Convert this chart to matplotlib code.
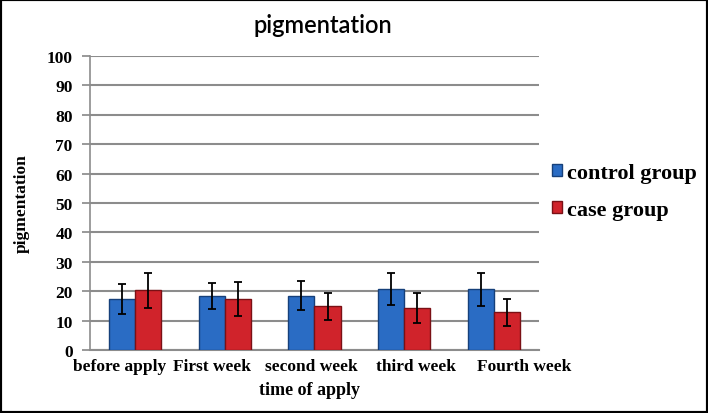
import numpy as np
import matplotlib
matplotlib.use('Agg')
import matplotlib.pyplot as plt
from matplotlib.patches import Rectangle, Patch

weeks = ['before apply', 'First week', 'second week', 'third week', 'Fourth week']
control = [17.3, 18.4, 18.4, 20.7, 20.7]
case = [20.3, 17.3, 14.8, 14.3, 12.8]
control_err = [5.2, 4.5, 4.9, 5.4, 5.6]
case_err = [6.0, 5.8, 4.6, 5.2, 4.6]
yticks = np.arange(0, 101, 10)
# the category labels are spread out a little to avoid overlapping
label_shift = [-0.17, -0.14, -0.03, 0.13, 0.33]

serif = 'Liberation Serif'

fig = plt.figure(figsize=(7.08, 4.14), dpi=100)
ax = fig.add_axes([0.1271, 0.1522, 0.6342, 0.7101])

x = np.arange(len(weeks))
w = 0.29
ax.bar(x - w / 2, control, w, color='#2a6cc4', edgecolor='#16407a', linewidth=1.0,
       yerr=control_err, error_kw=dict(ecolor='black', elinewidth=1.3, capsize=3, capthick=1.3),
       zorder=3)
ax.bar(x + w / 2, case, w, color='#d0232b', edgecolor='#7a1015', linewidth=1.0,
       yerr=case_err, error_kw=dict(ecolor='black', elinewidth=1.3, capsize=3, capthick=1.3),
       zorder=3)

ax.set_xlim(-0.5, len(weeks) - 0.5)
ax.set_ylim(0, 100)
ax.set_yticks(yticks)
ax.set_xticks(x + np.array(label_shift))
ax.set_xticklabels(weeks, fontfamily=serif, fontweight='bold', fontsize=12.5)
ax.tick_params(axis='x', length=0, pad=6)
ax.tick_params(axis='y', length=5.5, width=1.2, color='#888888', pad=7)
for lab in ax.get_yticklabels():
    lab.set_fontfamily(serif)
    lab.set_fontweight('bold')
    lab.set_fontsize(12.5)

ax.grid(axis='y', color='#8c8c8c', linewidth=1.5, zorder=0)
for s in ['top', 'right']:
    ax.spines[s].set_visible(False)
ax.spines['left'].set_color('#8c8c8c')
ax.spines['left'].set_linewidth(1.2)
ax.spines['bottom'].set_color('#8c8c8c')
ax.spines['bottom'].set_linewidth(1.5)

ax.set_xlabel('time of apply', fontfamily=serif, fontweight='bold', fontsize=13, labelpad=2)
ax.xaxis.set_label_coords(0.489, -0.105)
ax.set_ylabel('pigmentation', fontfamily=serif, fontweight='bold', fontsize=12.5, labelpad=12)

fig.text(0.456, 0.938, 'pigmentation', ha='center', va='center', fontfamily='Lato',
         fontsize=17, fontweight='semibold')

handles = [Patch(facecolor='#2a6cc4', edgecolor='#16407a'),
           Patch(facecolor='#d0232b', edgecolor='#7a1015')]
fig.legend(handles, ['control group', 'case group'], loc='center left',
           bbox_to_anchor=(0.752, 0.535), frameon=False, handlelength=0.45, handleheight=0.45,
           handletextpad=0.2, labelspacing=0.75,
           prop={'family': serif, 'weight': 'bold', 'size': 16})

fig.patches.append(Rectangle((0, 0), 1, 1, transform=fig.transFigure, fill=False,
                             edgecolor='black', linewidth=3))

fig.savefig('out.png', dpi=100)
